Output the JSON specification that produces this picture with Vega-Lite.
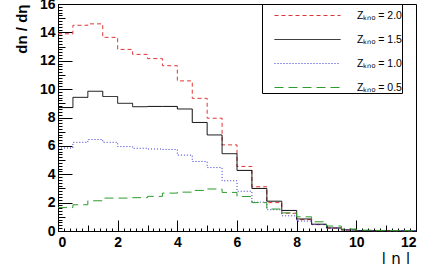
{
  "$schema": "https://vega.github.io/schema/vega-lite/v6.json",
  "width": 358,
  "height": 227,
  "autosize": "none",
  "padding": {"left": 58, "top": 4, "right": 16, "bottom": 33},
  "background": "white",
  "config": {
    "view": {"stroke": "black", "strokeWidth": 1},
    "axis": {
      "grid": false,
      "domainColor": "black",
      "tickColor": "black",
      "labelColor": "black",
      "titleColor": "black",
      "labelFont": "Liberation Sans",
      "labelFontWeight": "bold",
      "labelFontSize": 14,
      "titleFont": "Liberation Sans",
      "titleFontWeight": "bold",
      "titleFontSize": 15
    }
  },
  "data": {
    "values": [
      {"s": "2.0", "x": 0, "y": 13.9}, {"s": "2.0", "x": 0.5, "y": 14.5}, {"s": "2.0", "x": 1, "y": 14.6}, {"s": "2.0", "x": 1.5, "y": 13.65},
      {"s": "2.0", "x": 2, "y": 12.8}, {"s": "2.0", "x": 2.5, "y": 12.45}, {"s": "2.0", "x": 3, "y": 12.15}, {"s": "2.0", "x": 3.5, "y": 11.65},
      {"s": "2.0", "x": 4, "y": 10.58}, {"s": "2.0", "x": 4.5, "y": 9.35}, {"s": "2.0", "x": 5, "y": 7.95}, {"s": "2.0", "x": 5.5, "y": 6.07},
      {"s": "2.0", "x": 6, "y": 4.55}, {"s": "2.0", "x": 6.5, "y": 3.12}, {"s": "2.0", "x": 7, "y": 2.0}, {"s": "2.0", "x": 7.5, "y": 1.25},
      {"s": "2.0", "x": 8, "y": 0.8}, {"s": "2.0", "x": 8.5, "y": 0.45}, {"s": "2.0", "x": 9, "y": 0.2}, {"s": "2.0", "x": 9.5, "y": 0.07},
      {"s": "2.0", "x": 10, "y": 0.03}, {"s": "2.0", "x": 10.5, "y": 0.02}, {"s": "2.0", "x": 11, "y": 0.01}, {"s": "2.0", "x": 11.5, "y": 0.01},
      {"s": "2.0", "x": 12, "y": 0.01},
      {"s": "1.5", "x": 0, "y": 8.7}, {"s": "1.5", "x": 0.5, "y": 9.42}, {"s": "1.5", "x": 1, "y": 9.85}, {"s": "1.5", "x": 1.5, "y": 9.48},
      {"s": "1.5", "x": 2, "y": 9.0}, {"s": "1.5", "x": 2.5, "y": 8.76}, {"s": "1.5", "x": 3, "y": 8.78}, {"s": "1.5", "x": 3.5, "y": 8.78},
      {"s": "1.5", "x": 4, "y": 8.6}, {"s": "1.5", "x": 4.5, "y": 7.65}, {"s": "1.5", "x": 5, "y": 6.77}, {"s": "1.5", "x": 5.5, "y": 5.45},
      {"s": "1.5", "x": 6, "y": 4.27}, {"s": "1.5", "x": 6.5, "y": 3.0}, {"s": "1.5", "x": 7, "y": 2.1}, {"s": "1.5", "x": 7.5, "y": 1.45},
      {"s": "1.5", "x": 8, "y": 0.85}, {"s": "1.5", "x": 8.5, "y": 0.48}, {"s": "1.5", "x": 9, "y": 0.22}, {"s": "1.5", "x": 9.5, "y": 0.08},
      {"s": "1.5", "x": 10, "y": 0.03}, {"s": "1.5", "x": 10.5, "y": 0.02}, {"s": "1.5", "x": 11, "y": 0.01}, {"s": "1.5", "x": 11.5, "y": 0.01},
      {"s": "1.5", "x": 12, "y": 0.01},
      {"s": "1.0", "x": 0, "y": 5.85}, {"s": "1.0", "x": 0.5, "y": 6.25}, {"s": "1.0", "x": 1, "y": 6.45}, {"s": "1.0", "x": 1.5, "y": 6.25},
      {"s": "1.0", "x": 2, "y": 5.95}, {"s": "1.0", "x": 2.5, "y": 5.83}, {"s": "1.0", "x": 3, "y": 5.78}, {"s": "1.0", "x": 3.5, "y": 5.75},
      {"s": "1.0", "x": 4, "y": 5.35}, {"s": "1.0", "x": 4.5, "y": 4.9}, {"s": "1.0", "x": 5, "y": 4.47}, {"s": "1.0", "x": 5.5, "y": 3.54},
      {"s": "1.0", "x": 6, "y": 2.8}, {"s": "1.0", "x": 6.5, "y": 2.03}, {"s": "1.0", "x": 7, "y": 1.5}, {"s": "1.0", "x": 7.5, "y": 1.07},
      {"s": "1.0", "x": 8, "y": 0.7}, {"s": "1.0", "x": 8.5, "y": 0.45}, {"s": "1.0", "x": 9, "y": 0.2}, {"s": "1.0", "x": 9.5, "y": 0.07},
      {"s": "1.0", "x": 10, "y": 0.03}, {"s": "1.0", "x": 10.5, "y": 0.02}, {"s": "1.0", "x": 11, "y": 0.01}, {"s": "1.0", "x": 11.5, "y": 0.01},
      {"s": "1.0", "x": 12, "y": 0.01},
      {"s": "0.5", "x": 0, "y": 1.65}, {"s": "0.5", "x": 0.5, "y": 1.85}, {"s": "0.5", "x": 1, "y": 2.13}, {"s": "0.5", "x": 1.5, "y": 2.32},
      {"s": "0.5", "x": 2, "y": 2.32}, {"s": "0.5", "x": 2.5, "y": 2.35}, {"s": "0.5", "x": 3, "y": 2.44}, {"s": "0.5", "x": 3.5, "y": 2.67},
      {"s": "0.5", "x": 4, "y": 2.74}, {"s": "0.5", "x": 4.5, "y": 2.86}, {"s": "0.5", "x": 5, "y": 2.96}, {"s": "0.5", "x": 5.5, "y": 2.72},
      {"s": "0.5", "x": 6, "y": 2.43}, {"s": "0.5", "x": 6.5, "y": 2.0}, {"s": "0.5", "x": 7, "y": 1.55}, {"s": "0.5", "x": 7.5, "y": 1.28},
      {"s": "0.5", "x": 8, "y": 1.0}, {"s": "0.5", "x": 8.5, "y": 0.65}, {"s": "0.5", "x": 9, "y": 0.35}, {"s": "0.5", "x": 9.5, "y": 0.14},
      {"s": "0.5", "x": 10, "y": 0.06}, {"s": "0.5", "x": 10.5, "y": 0.04}, {"s": "0.5", "x": 11, "y": 0.03}, {"s": "0.5", "x": 11.5, "y": 0.02},
      {"s": "0.5", "x": 12, "y": 0.02}
    ]
  },
  "resolve": {"axis": {"x": "independent", "y": "independent"}},
  "layer": [
    {
      "mark": {"type": "point", "opacity": 0},
      "encoding": {
        "x": {"field": "x", "type": "quantitative", "scale": {"domain": [0, 12], "nice": false},
          "axis": {"orient": "bottom", "values": [0.2,0.4,0.6,0.8,1.2,1.4,1.6,1.8,2.2,2.4,2.6,2.8,3.2,3.4,3.6,3.8,4.2,4.4,4.6,4.8,5.2,5.4,5.6,5.8,6.2,6.4,6.6,6.8,7.2,7.4,7.6,7.8,8.2,8.4,8.6,8.8,9.2,9.4,9.6,9.8,10.2,10.4,10.6,10.8,11.2,11.4,11.6,11.8],
            "labels": false, "domain": false, "title": null, "tickSize": -3}},
        "y": {"field": "y", "type": "quantitative", "scale": {"domain": [0, 16], "nice": false},
          "axis": {"orient": "left", "values": [0.2,0.4,0.6,0.8,1.2,1.4,1.6,1.8,2.2,2.4,2.6,2.8,3.2,3.4,3.6,3.8,4.2,4.4,4.6,4.8,5.2,5.4,5.6,5.8,6.2,6.4,6.6,6.8,7.2,7.4,7.6,7.8,8.2,8.4,8.6,8.8,9.2,9.4,9.6,9.8,10.2,10.4,10.6,10.8,11.2,11.4,11.6,11.8,12.2,12.4,12.6,12.8,13.2,13.4,13.6,13.8,14.2,14.4,14.6,14.8,15.2,15.4,15.6,15.8],
            "labels": false, "domain": false, "title": null, "tickSize": -4}}
      }
    },
    {
      "mark": {"type": "point", "opacity": 0},
      "encoding": {
        "x": {"field": "x", "type": "quantitative", "scale": {"domain": [0, 12], "nice": false},
          "axis": {"orient": "bottom", "values": [1, 3, 5, 7, 9, 11], "labels": false, "domain": false, "title": null, "tickSize": -6}},
        "y": {"field": "y", "type": "quantitative", "scale": {"domain": [0, 16], "nice": false},
          "axis": {"orient": "left", "values": [1, 3, 5, 7, 9, 11, 13, 15], "labels": false, "domain": false, "title": null, "tickSize": -7}}
      }
    },
    {
      "mark": {"type": "line", "interpolate": "step-after", "strokeWidth": 1},
      "encoding": {
        "x": {"field": "x", "type": "quantitative", "scale": {"domain": [0, 12], "nice": false},
          "axis": {"orient": "bottom", "values": [0, 2, 4, 6, 8, 10, 12], "tickSize": -11, "labelPadding": 15,
            "title": "| η |", "titleAnchor": "end", "titleAlign": "right", "titleX": 352, "titlePadding": 2, "titleFontWeight": "normal", "titleFont": "DejaVu Sans"}},
        "y": {"field": "y", "type": "quantitative", "scale": {"domain": [0, 16], "nice": false},
          "axis": {"orient": "left", "values": [0, 2, 4, 6, 8, 10, 12, 14, 16], "tickSize": -14, "labelPadding": 17,
            "title": "dn / dη", "titleAnchor": "end", "titlePadding": 10}},
        "color": {"field": "s", "type": "nominal", "title": null,
          "scale": {"domain": ["2.0", "1.5", "1.0", "0.5"], "range": ["#e03535", "#000000", "#3535d0", "#2e9b2e"]},
          "legend": {
            "orient": "none", "legendX": 204, "legendY": 0,
            "strokeColor": "black", "fillColor": "white", "padding": 0,
            "symbolType": "M-3,0H3", "symbolSize": 484, "symbolStrokeWidth": 1, "symbolOffset": 34,
            "labelOffset": 38, "labelFont": "Liberation Sans", "labelFontSize": 10.5, "labelColor": "black",
            "rowPadding": 7,
            "labelExpr": "'Z\u2096\u2099\u2092 = ' + datum.label + '    '"
          }},
        "strokeDash": {"field": "s", "type": "nominal", "title": null,
          "scale": {"domain": ["2.0", "1.5", "1.0", "0.5"], "range": [[4, 3], [1, 0], [1, 2], [9, 5]]}}
      }
    }
  ]
}
